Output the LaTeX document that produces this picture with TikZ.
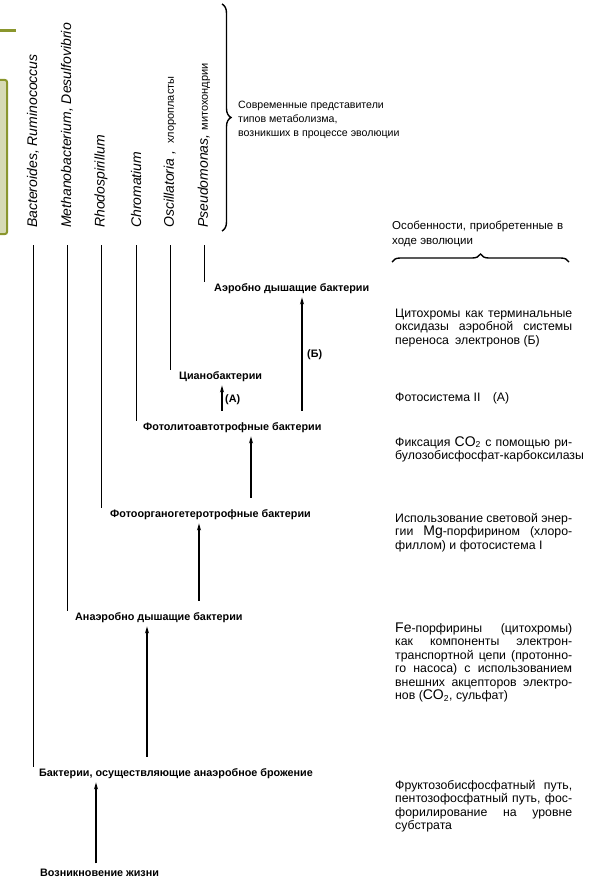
\documentclass[tikz,border=0pt]{standalone}
\usepackage{fontspec}
\setmainfont{Liberation Sans}
\usetikzlibrary{arrows.meta,decorations.pathreplacing}
\definecolor{olivebar}{RGB}{138,150,45}
\newcommand\jl[2][177pt]{\hbox to #1{\spaceskip=.28em plus 1fil minus .12em\relax #2}}
\newcommand\plainln[1]{\hbox{#1}}
\newcommand\bigsym[1]{{\fontsize{14}{14}\selectfont #1}}
\begin{document}
\begin{tikzpicture}[x=1pt,y=-1pt,
  lbl/.style={font=\bfseries\fontsize{10.8}{12}\selectfont, inner sep=1pt, anchor=base west},
  rot/.style={rotate=90, anchor=west, inner sep=0pt, font=\itshape\fontsize{14}{16}\selectfont},
  vline/.style={line width=1pt},
  arr/.style={line width=1.2pt, -{Stealth[length=7pt,width=4pt]}, shorten >=3pt, shorten <=10pt},
  note/.style={anchor=base west, inner sep=0pt, font=\fontsize{12.3}{13.5}\selectfont},
  brc/.style={decorate, line width=1.4pt}
]
\useasboundingbox (0,0) rectangle (598,880);
% olive marks at the left edge
\draw[olivebar, line width=3pt] (0,31) -- (16,31);
\draw[olivebar, line width=2pt, fill=olivebar!35, rounded corners=2pt] (-4,80) rectangle (7,234);

% rotated species labels
\node[rot] (bac) at (33,228) {Bacteroides, Ruminococcus};
\node[rot] (meth) at (67,228) {Methanobacterium, Desulfovibrio};
\node[rot] (rhod) at (101,228) {Rhodospirillum};
\node[rot] (chrom) at (136,228) {Chromatium};
\node[rot] (osc) at (170,228) {Oscillatoria ,\enspace{\upshape\fontsize{11}{13}\selectfont хлоропласты}};
\node[rot] (pseu) at (204,228) {Pseudomonas, {\upshape\fontsize{11}{13}\selectfont митохондрии}};

% metabolic groups
\node[lbl] (aer) at (213,291) {Аэробно дышащие бактерии};
\node[lbl] (cyan) at (178,379) {Цианобактерии};
\node[lbl] (plito) at (142,430) {Фотолитоавтотрофные бактерии};
\node[lbl] (porg) at (109,517) {Фотоорганогетеротрофные бактерии};
\node[lbl] (anaer) at (74,620) {Анаэробно дышащие бактерии};
\node[lbl] (bferm) at (38,776) {Бактерии, осуществляющие анаэробное брожение};
\node[lbl] (vozn) at (39,876) {Возникновение жизни};
\node[lbl] (la) at (224,402) {(А)};
\node[lbl] (lb) at (306,357) {(Б)};

% lines from species to groups
\draw[vline] (bac.west |- 0,245) -- (bac.west |- bferm.north);
\draw[vline] (meth.west |- 0,245) -- (meth.west |- anaer.north);
\draw[vline] (rhod.west |- 0,245) -- (rhod.west |- porg.north);
\draw[vline] (chrom.west |- 0,245) -- (chrom.west |- plito.north);
\draw[vline] (osc.west |- 0,245) -- (osc.west |- cyan.north);
\draw[vline] (pseu.west |- 0,245) -- (pseu.west |- aer.north);

% evolutionary arrows
\draw[arr, shorten <=4pt] (vozn.north -| 96,0) -- (bferm.south -| 96,0);
\draw[arr] (bferm.north -| 147,0) -- (anaer.south -| 147,0);
\draw[arr] (anaer.north -| 199,0) -- (porg.south -| 199,0);
\draw[arr] (porg.north -| 251,0) -- (plito.south -| 251,0);
\draw[arr] (plito.north -| 222,0) -- (cyan.south -| 222,0);
\draw[arr] (plito.north -| 302,0) -- (aer.south -| 302,0);

% braces
\draw[brc, decoration={brace, amplitude=9pt}] (222,4) -- (222,231);
\draw[brc, decoration={brace, amplitude=8pt}] (392,262) -- (569,262);

% notes
\node[note, font=\fontsize{10.6}{14}\selectfont] (modern) at (238,109) {\vtop{\baselineskip=14pt
  \plainln{Современные представители}
  \plainln{типов метаболизма,}
  \plainln{возникших в процессе эволюции}}};
\node[note, font=\fontsize{11.5}{14}\selectfont] (osob) at (392,229) {\vtop{\baselineskip=15pt
  \jl[171pt]{Особенности, приобретенные в}
  \plainln{ходе эволюции}}};
\node[note] (cyt) at (395,317) {\vtop{\baselineskip=13.5pt
  \jl{Цитохромы как терминальные}
  \jl{оксидазы аэробной системы}
  \plainln{переноса\enspace электронов (Б)}}};
\node[note] (ps2) at (395,401) {Фотосистема II\quad (А)};
\node[note] (fix) at (395,446) {\vtop{\baselineskip=13.5pt
  \jl{Фиксация \bigsym{CO}\textsubscript{2} с помощью ри-}
  \plainln{булозобисфосфат-карбоксилазы}}};
\node[note] (mg) at (395,522) {\vtop{\baselineskip=13.5pt
  \jl{Использование световой энер-}
  \jl{гии \bigsym{Mg}-порфирином (хлоро-}
  \plainln{филлом) и фотосистема I}}};
\node[note] (fe) at (395,632) {\vtop{\baselineskip=13.5pt
  \jl{\bigsym{Fe}-порфирины (цитохромы)}
  \jl{как компоненты электрон-}
  \jl{транспортной цепи (протонно-}
  \jl{го насоса) с использованием}
  \jl{внешних акцепторов электро-}
  \plainln{нов (\bigsym{CO}\textsubscript{2}, сульфат)}}};
\node[note] (fr) at (395,789) {\vtop{\baselineskip=13.5pt
  \jl{Фруктозобисфосфатный путь,}
  \jl{пентозофосфатный путь, фос-}
  \jl{форилирование на уровне}
  \plainln{субстрата}}};
\end{tikzpicture}
\end{document}
